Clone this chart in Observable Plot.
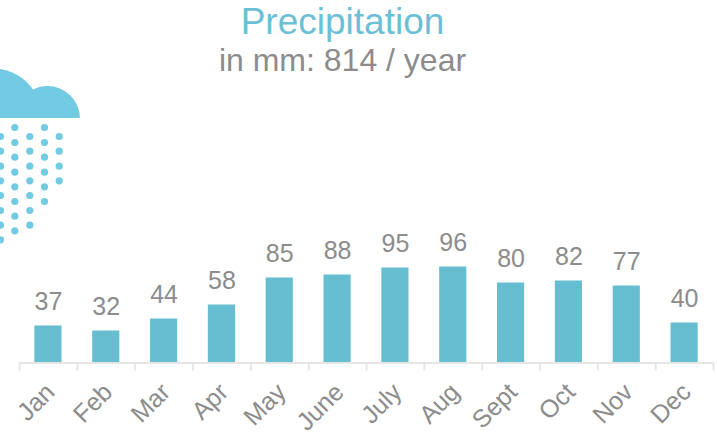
<!DOCTYPE html>
<html><head><meta charset="utf-8">
<script src="https://cdn.jsdelivr.net/npm/d3@7"></script>
<script src="https://cdn.jsdelivr.net/npm/@observablehq/plot@0.6"></script>
<style>
html,body{margin:0;padding:0;background:#fff;overflow:hidden}
#wrap{position:relative;width:717px;height:437px;font-family:"Liberation Sans",Arial,sans-serif}
#art{position:absolute;left:0;top:0}
#titles{position:absolute;left:0;top:0;width:685px;text-align:center}
#t{color:#6cc0d6;font-size:37px;line-height:40px;margin-top:2px}
#s{color:#8c8c8c;font-size:32px;line-height:36px}
#chart{position:absolute;left:0;top:80px}
svg{background:transparent!important}
</style></head><body>
<div id="wrap"><div id="art"></div><div id="titles"><div id="t">Precipitation</div><div id="s">in mm: 814 / year</div></div><div id="chart"></div></div>
<script>
const months=["Jan","Feb","Mar","Apr","May","June","July","Aug","Sept","Oct","Nov","Dec"];
const rainfall=[37,32,44,58,85,88,95,96,80,82,77,40];
const cloudX=[-8,47];
const cloudY=[118,118];
const cloudR=[50,32.5];
const rainX=[0,14.3,29.3,44,58.7];
const rainRows=[
 [136,150.7,165.7,180.3,195,210,224.7,239.3],
 [127,142,156.7,171.7,186.3,201,215.7,230.3],
 [136,150.7,165.7,180.3,195,210,224.7],
 [127,142,156.7,171.7,186.3,201],
 [136,150.7,165.7,180.3]];
const table=months.map((m,i)=>({m,v:rainfall[i]}));
const cloud=cloudX.map((x,i)=>({x,y:cloudY[i],r:cloudR[i]}));
const rain=rainX.flatMap((x,i)=>rainRows[i].map(y=>({x,y})));
const C="#72cbe2",A="#e6e6e6",G="#8c8c8c";

document.getElementById("art").append(Plot.plot({
  width:717,height:437,margin:0,
  x:{domain:[0,717],range:[0,717],axis:null},
  y:{domain:[0,437],range:[0,437],axis:null},
  r:{type:"identity"},
  marks:[
    Plot.dot(cloud,{x:"x",y:"y",r:"r",fill:C,clip:true}),
    Plot.rect([{a:0,b:118,c:100,d:437}],{x1:"a",x2:"c",y1:"b",y2:"d",fill:"#fff"}),
    Plot.dot(rain,{x:"x",y:"y",r:3.6,fill:C})
  ]
}));

document.getElementById("chart").append(Plot.plot({
  width:717,height:357,
  marginLeft:19,marginRight:4,marginTop:182.5,marginBottom:74.5,
  style:{fontFamily:"'Liberation Sans',Arial,sans-serif"},
  x:{domain:months,paddingInner:0.53,paddingOuter:0.265,align:0.5,round:false,axis:null},
  y:{domain:[0,100],axis:null},
  marks:[
    Plot.barY(table,{x:"m",y:"v",fill:"#68bed1"}),
    Plot.ruleY([0],{stroke:A,strokeWidth:2}),
    Plot.ruleX(table,{x:"m",y1:0,y2:-8,dx:-28.9,stroke:A,strokeWidth:2}),
    Plot.ruleX(table.slice(-1),{x:"m",y1:0,y2:-8,dx:28.9,stroke:A,strokeWidth:2}),
    Plot.text(table,{x:"m",y:"v",text:d=>String(d.v),dy:-16,lineAnchor:"bottom",fill:G,fontSize:25}),
    Plot.text(table,{x:"m",y:0,text:"m",rotate:-45,textAnchor:"end",lineAnchor:"middle",dy:25,dx:2,fill:G,fontSize:25})
  ]
}));
</script></body></html>
